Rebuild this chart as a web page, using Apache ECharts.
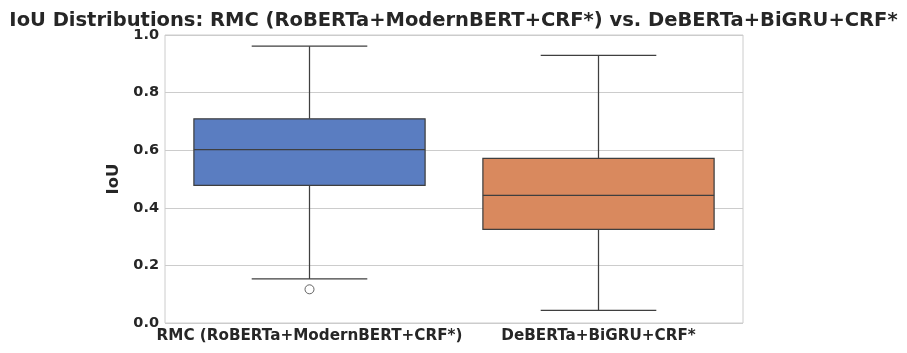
<!DOCTYPE html>
<html>
<head>
<meta charset="utf-8">
<script src="https://cdn.jsdelivr.net/npm/echarts@6/dist/echarts.min.js"></script>
<style>
html,body{margin:0;padding:0;background:#fff;}
#c{width:907px;height:353px;}
</style>
</head>
<body>
<div id="c"></div>
<script>
const categories = ['RMC (RoBERTa+ModernBERT+CRF*)', 'DeBERTa+BiGRU+CRF*'];
// [lowerWhisker, Q1, median, Q3, upperWhisker]
const boxStats = [
  [0.153, 0.478, 0.602, 0.709, 0.961],
  [0.044, 0.325, 0.443, 0.572, 0.929]
];
const outliers = [[0, 0.117]];
const boxColors = ['#5A7DC1', '#D9895E'];
const yTicks = [0, 0.2, 0.4, 0.6, 0.8, 1.0];

const chart = echarts.init(document.getElementById('c'), null, {renderer: 'canvas'});
const FONT = 'DejaVu Sans';
const LINE = '#3f3f3f';

function renderBox(params, api) {
  const idx = api.value(0);
  const lo = api.value(1), q1 = api.value(2), med = api.value(3), q3 = api.value(4), hi = api.value(5);
  const band = api.size([1, 0])[0];
  const half = band * 0.8 / 2;
  const cap = half / 2;
  const cx = api.coord([idx, 0])[0];
  const yLo = api.coord([idx, lo])[1];
  const yQ1 = api.coord([idx, q1])[1];
  const yMed = api.coord([idx, med])[1];
  const yQ3 = api.coord([idx, q3])[1];
  const yHi = api.coord([idx, hi])[1];
  const ls = {stroke: LINE, lineWidth: 1.25};
  return {
    type: 'group',
    children: [
      {type: 'line', shape: {x1: cx, y1: yQ3, x2: cx, y2: yHi}, style: ls},
      {type: 'line', shape: {x1: cx, y1: yQ1, x2: cx, y2: yLo}, style: ls},
      {type: 'line', shape: {x1: cx - cap, y1: yHi, x2: cx + cap, y2: yHi}, style: ls},
      {type: 'line', shape: {x1: cx - cap, y1: yLo, x2: cx + cap, y2: yLo}, style: ls},
      {type: 'rect', shape: {x: cx - half, y: yQ3, width: half * 2, height: yQ1 - yQ3},
        style: {fill: boxColors[idx], stroke: LINE, lineWidth: 1.25}},
      {type: 'line', shape: {x1: cx - half, y1: yMed, x2: cx + half, y2: yMed}, style: ls}
    ]
  };
}

chart.setOption({
  animation: false,
  backgroundColor: '#ffffff',
  title: {
    text: 'IoU Distributions: RMC (RoBERTa+ModernBERT+CRF*) vs. DeBERTa+BiGRU+CRF*',
    left: 'center',
    top: 6,
    textStyle: {fontFamily: FONT, fontWeight: 'bold', fontSize: 19.5, color: '#262626'}
  },
  grid: {left: 165, right: 164, top: 35, bottom: 30, show: true, borderColor: '#cccccc', borderWidth: 1},
  xAxis: {
    type: 'category',
    data: categories,
    boundaryGap: true,
    axisLine: {show: false},
    axisTick: {show: false},
    splitLine: {show: false},
    axisLabel: {fontFamily: FONT, fontWeight: 'bold', fontSize: 15.2, color: '#262626', margin: 6, interval: 0}
  },
  yAxis: {
    type: 'value',
    min: 0, max: 1, interval: 0.2,
    name: 'IoU',
    nameLocation: 'middle',
    nameGap: 38,
    nameTextStyle: {fontFamily: FONT, fontWeight: 'bold', fontSize: 16.5, color: '#262626'},
    axisLine: {show: false},
    axisTick: {show: false},
    splitLine: {show: true, lineStyle: {color: '#cccccc', width: 1}},
    axisLabel: {
      fontFamily: FONT, fontWeight: 'bold', fontSize: 14.5, color: '#262626', margin: 6,
      formatter: v => (yTicks.some(t => Math.abs(t - v) < 1e-9) ? v.toFixed(1) : '')
    }
  },
  series: [
    {
      type: 'custom',
      renderItem: renderBox,
      data: boxStats.map((s, i) => [i].concat(s)),
      encode: {x: 0, y: [1, 2, 3, 4, 5]},
      z: 3
    },
    {
      type: 'scatter',
      data: outliers,
      symbol: 'circle',
      symbolSize: 9,
      itemStyle: {color: '#ffffff', borderColor: LINE, borderWidth: 1},
      z: 4
    }
  ]
});
</script>
</body>
</html>
